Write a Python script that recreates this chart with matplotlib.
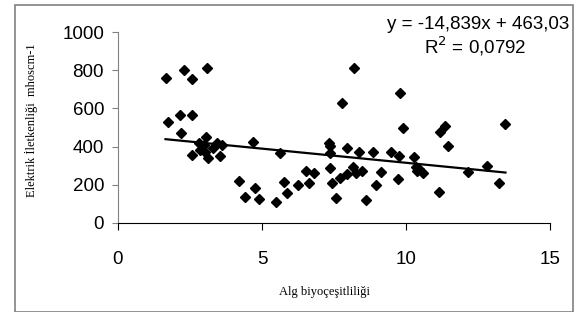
import numpy as np
import matplotlib
matplotlib.use("Agg")
from matplotlib import pyplot as plt
from matplotlib.patches import Rectangle

# Alg biyoçeşitliliği (x) vs Elektrik İletkenliği (y)
alg = [1.65, 2.28, 2.57, 3.09, 1.72, 2.16, 2.57, 2.20, 3.06,
       2.80, 2.97, 3.44, 3.61, 2.57, 2.86, 3.11, 3.55, 3.03, 3.30, 4.67, 5.61,
       4.21, 4.77, 4.40, 4.88, 5.49, 5.75, 5.87,
       6.25, 6.54, 6.79, 6.64, 7.31, 7.35, 7.35, 7.35, 7.43, 7.58, 7.72, 7.95,
       8.15, 8.27, 8.47, 8.61, 7.95, 8.38, 8.85, 8.96, 9.14, 9.49, 9.74, 9.72,
       10.29, 10.33, 10.44, 10.58, 10.38,
       8.18, 7.78, 9.80, 9.88, 11.17, 11.34, 13.45,
       11.46, 11.16, 12.14, 12.81, 13.21]
ec = [762, 801, 752, 810, 530, 565, 565, 472, 448,
      420, 407, 416, 407, 355, 381, 341, 350, 372, 390, 425, 364,
      220, 180, 133, 124, 110, 215, 154,
      198, 271, 259, 210, 416, 404, 364, 285, 207, 128, 236, 254,
      294, 259, 273, 119, 393, 372, 369, 198, 267, 369, 351, 229,
      346, 294, 280, 262, 273,
      813, 629, 679, 495, 474, 509, 518,
      402, 163, 268, 299, 210]

slope = -14.839
intercept = 463.03

fig = plt.figure(figsize=(5.84, 3.12), dpi=100)
ax = fig.add_axes([0.202, 0.286, 0.740, 0.611])

ax.plot(alg, ec, "D", color="black", markersize=5, linestyle="none")
xl = np.array([min(alg), max(alg)])
ax.plot(xl, slope * xl + intercept, color="black", linewidth=1.6)

ax.set_xlim(0, 15)
ax.set_ylim(0, 1000)
ax.set_xticks([0, 5, 10, 15])
ax.set_yticks([0, 200, 400, 600, 800, 1000])
for s in ["top", "right"]:
    ax.spines[s].set_visible(False)
ax.spines["left"].set_color("#808080")
ax.spines["bottom"].set_color("black")
ax.tick_params(axis="y", length=4, pad=6, colors="#808080", labelcolor="black")
ax.tick_params(axis="x", length=5, pad=15)
for lab in ax.get_xticklabels() + ax.get_yticklabels():
    lab.set_fontfamily("Liberation Sans")
    lab.set_fontsize(13.5)

ax.set_xlabel("Alg biyoçeşitliliği", fontfamily="Liberation Serif",
              fontsize=9)
ax.set_ylabel("Elektrik İletkenliği  mhoscm-1", fontfamily="Liberation Serif",
              fontsize=9)
ax.xaxis.set_label_coords(0.477, -0.33)
ax.yaxis.set_label_coords(-0.185, 0.54)

fig.text(569 / 584, 1 - 29 / 312, "y = -14,839x + 463,03", ha="right",
         va="baseline", fontfamily="Liberation Sans", fontsize=13.5)
fig.text(526 / 584, 1 - 54 / 312, "R$^2$ = 0,0792", ha="right",
         va="baseline", fontfamily="Liberation Sans", fontsize=13.5)

fig.patches.append(Rectangle((15 / 584, 0.0), (573 - 15) / 584, 1 - 5 / 312,
                             transform=fig.transFigure, fill=False,
                             edgecolor="#808080", linewidth=1.2))

fig.savefig("out.png", dpi=100)
